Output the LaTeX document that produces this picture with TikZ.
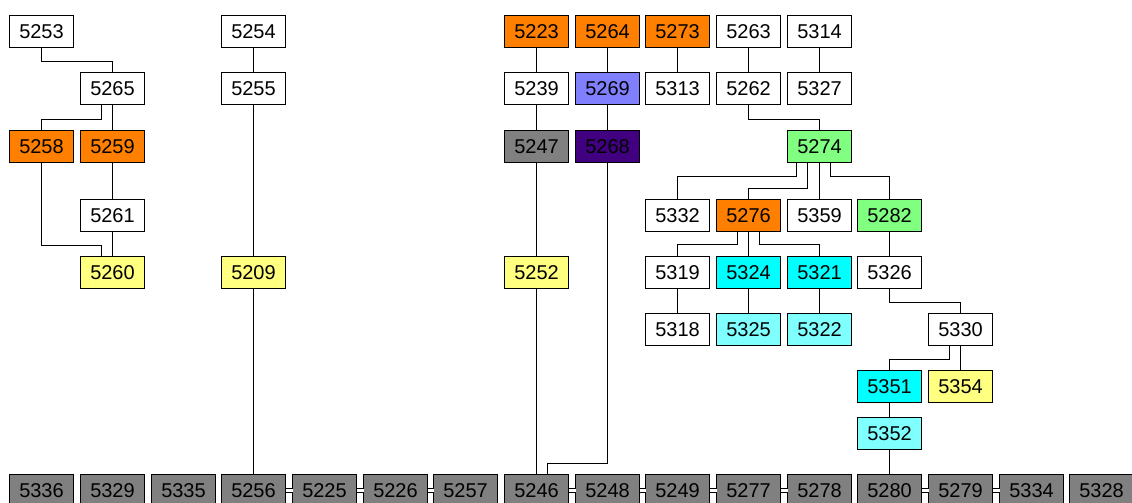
\documentclass[tikz,border=0pt]{standalone}
\usepackage{fontspec}
\setmainfont{Liberation Sans}
\usetikzlibrary{calc}

\definecolor{orng}{RGB}{255,128,0}
\definecolor{pale}{RGB}{255,255,128}
\definecolor{slate}{RGB}{128,128,128}
\definecolor{lilac}{RGB}{128,128,255}
\definecolor{indig}{RGB}{64,0,128}
\definecolor{mint}{RGB}{128,255,128}
\definecolor{aqua}{RGB}{0,255,255}
\definecolor{paleaqua}{RGB}{128,255,255}

\begin{document}
\begin{tikzpicture}[x=1pt,y=-1pt,
  box/.style={draw=black, line width=1pt, fill=white, minimum width=64pt, minimum height=32pt, inner sep=0pt, outer sep=0pt, font=\fontsize{20}{22}\selectfont},
  link/.style={line width=1pt},
  twin/.style={line width=1pt, double, double distance=3pt}]

\useasboundingbox (0,0) rectangle (1132,503);
\clip (0,0) rectangle (1132,503);

% top row
\node[box] (n5253) at (41.5,31.5) {5253};
\node[box] (n5254) at (253.5,31.5) {5254};
\node[box, fill=orng] (n5223) at (536.5,31.5) {5223};
\node[box, fill=orng] (n5264) at (607.5,31.5) {5264};
\node[box, fill=orng] (n5273) at (677.5,31.5) {5273};
\node[box] (n5263) at (748.5,31.5) {5263};
\node[box] (n5314) at (819.5,31.5) {5314};

\node[box] (n5265) at (112.5,88.5) {5265};
\node[box] (n5255) at (253.5,88.5) {5255};
\node[box] (n5239) at (536.5,88.5) {5239};
\node[box, fill=lilac] (n5269) at (607.5,88.5) {5269};
\node[box] (n5313) at (677.5,88.5) {5313};
\node[box] (n5262) at (748.5,88.5) {5262};
\node[box] (n5327) at (819.5,88.5) {5327};

\node[box, fill=orng] (n5258) at (41.5,146.5) {5258};
\node[box, fill=orng] (n5259) at (112.5,146.5) {5259};
\node[box, fill=slate] (n5247) at (536.5,146.5) {5247};
\node[box, fill=indig] (n5268) at (607.5,146.5) {5268};
\node[box, fill=mint] (n5274) at (819.5,146.5) {5274};

\node[box] (n5261) at (112.5,215.5) {5261};
\node[box] (n5332) at (677.5,215.5) {5332};
\node[box, fill=orng] (n5276) at (748.5,215.5) {5276};
\node[box] (n5359) at (819.5,215.5) {5359};
\node[box, fill=mint] (n5282) at (889.5,215.5) {5282};

\node[box, fill=pale] (n5260) at (112.5,272.5) {5260};
\node[box, fill=pale] (n5209) at (253.5,272.5) {5209};
\node[box, fill=pale] (n5252) at (536.5,272.5) {5252};
\node[box] (n5319) at (677.5,272.5) {5319};
\node[box, fill=aqua] (n5324) at (748.5,272.5) {5324};
\node[box, fill=aqua] (n5321) at (819.5,272.5) {5321};
\node[box] (n5326) at (889.5,272.5) {5326};

\node[box] (n5318) at (677.5,329.5) {5318};
\node[box, fill=paleaqua] (n5325) at (748.5,329.5) {5325};
\node[box, fill=paleaqua] (n5322) at (819.5,329.5) {5322};
\node[box] (n5330) at (960.5,329.5) {5330};

\node[box, fill=aqua] (n5351) at (889.5,386.5) {5351};
\node[box, fill=pale] (n5354) at (960.5,386.5) {5354};
\node[box, fill=paleaqua] (n5352) at (889.5,433.5) {5352};

% bottom row
\node[box, fill=slate] (n5336) at (41.5,490.5) {5336};
\node[box, fill=slate] (n5329) at (112.5,490.5) {5329};
\node[box, fill=slate] (n5335) at (183.5,490.5) {5335};
\node[box, fill=slate] (n5256) at (253.5,490.5) {5256};
\node[box, fill=slate] (n5225) at (324.5,490.5) {5225};
\node[box, fill=slate] (n5226) at (395.5,490.5) {5226};
\node[box, fill=slate] (n5257) at (465.5,490.5) {5257};
\node[box, fill=slate] (n5246) at (536.5,490.5) {5246};
\node[box, fill=slate] (n5248) at (607.5,490.5) {5248};
\node[box, fill=slate] (n5249) at (677.5,490.5) {5249};
\node[box, fill=slate] (n5277) at (748.5,490.5) {5277};
\node[box, fill=slate] (n5278) at (819.5,490.5) {5278};
\node[box, fill=slate] (n5280) at (889.5,490.5) {5280};
\node[box, fill=slate] (n5279) at (960.5,490.5) {5279};
\node[box, fill=slate] (n5334) at (1031.5,490.5) {5334};
\node[box, fill=slate] (n5328) at (1101.5,490.5) {5328};

% left trees
\draw[link] (n5253.south) |- ($(n5265.north)+(0,-11)$) -- (n5265.north);
\draw[link] ($(n5265.south)+(-11,0)$) |- ($(n5258.north)+(0,-11)$) -- (n5258.north);
\draw[link] (n5265.south) -- (n5259.north);
\draw[link] (n5259.south) -- (n5261.north);
\draw[link] (n5261.south) -- (n5260.north);
\draw[link] (n5258.south) |- ($(n5260.north)+(-11,-11)$) -- ($(n5260.north)+(-11,0)$);

\draw[link] (n5254.south) -- (n5255.north);
\draw[link] (n5255.south) -- (n5209.north);
\draw[link] (n5209.south) -- (n5256.north);

% middle
\draw[link] (n5223.south) -- (n5239.north);
\draw[link] (n5239.south) -- (n5247.north);
\draw[link] (n5247.south) -- (n5252.north);
\draw[link] (n5252.south) -- (n5246.north);
\draw[link] (n5264.south) -- (n5269.north);
\draw[link] (n5269.south) -- (n5268.north);
\draw[link] (n5268.south) |- ($(n5246.north)+(11,-11)$) -- ($(n5246.north)+(11,0)$);
\draw[link] (n5273.south) -- (n5313.north);
\draw[link] (n5314.south) -- (n5327.north);
\draw[link] (n5263.south) -- (n5262.north);
\draw[link] (n5262.south) |- ($(n5274.north)+(0,-11)$) -- (n5274.north);

% right tree
\draw[link] ($(n5274.south)+(-23,0)$) |- ($(n5332.north)+(0,-23)$) -- (n5332.north);
\draw[link] ($(n5274.south)+(-12,0)$) |- ($(n5276.north)+(0,-11)$) -- (n5276.north);
\draw[link] (n5274.south) -- (n5359.north);
\draw[link] ($(n5274.south)+(11,0)$) |- ($(n5282.north)+(0,-23)$) -- (n5282.north);

\draw[link] ($(n5276.south)+(-11,0)$) |- ($(n5319.north)+(0,-12)$) -- (n5319.north);
\draw[link] (n5276.south) -- (n5324.north);
\draw[link] ($(n5276.south)+(11,0)$) |- ($(n5321.north)+(0,-12)$) -- (n5321.north);
\draw[link] (n5319.south) -- (n5318.north);
\draw[link] (n5324.south) -- (n5325.north);
\draw[link] (n5321.south) -- (n5322.north);

\draw[link] (n5282.south) -- (n5326.north);
\draw[link] (n5326.south) |- ($(n5330.north)+(0,-11)$) -- (n5330.north);
\draw[link] ($(n5330.south)+(-11,0)$) |- ($(n5351.north)+(0,-11)$) -- (n5351.north);
\draw[link] (n5330.south) -- (n5354.north);
\draw[link] (n5351.south) -- (n5352.north);
\draw[link] (n5352.south) -- (n5280.north);

% bottom pairs
\draw[twin] (n5256.east) -- (n5225.west);
\draw[twin] (n5225.east) -- (n5226.west);
\draw[twin] (n5226.east) -- (n5257.west);
\draw[twin] (n5246.east) -- (n5248.west);
\draw[twin] (n5248.east) -- (n5249.west);
\draw[twin] (n5249.east) -- (n5277.west);
\draw[twin] (n5277.east) -- (n5278.west);
\draw[twin] (n5280.east) -- (n5279.west);
\draw[twin] (n5279.east) -- (n5334.west);

\end{tikzpicture}
\end{document}
